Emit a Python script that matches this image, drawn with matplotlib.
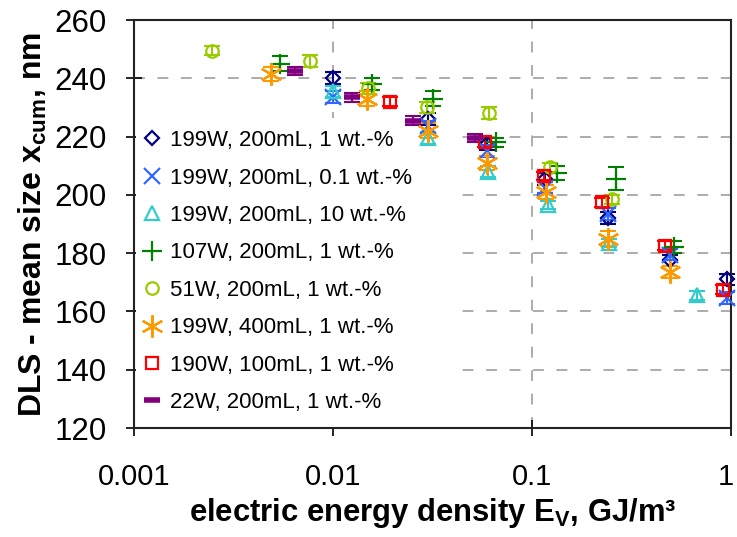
import matplotlib
matplotlib.use('Agg')
import matplotlib.pyplot as plt
from matplotlib.patches import Rectangle
from matplotlib.transforms import ScaledTranslation

plt.rcParams['font.family'] = ['Liberation Sans', 'DejaVu Sans']
plt.rcParams['mathtext.fontset'] = 'custom'
plt.rcParams['mathtext.rm'] = 'Liberation Sans'
plt.rcParams['mathtext.bf'] = 'Liberation Sans:bold'

# 199W, 200mL, 1 wt.-%
x_199_1 = [0.0100, 0.0300, 0.0594, 0.1160, 0.2410, 0.4930, 0.9550]
y_199_1 = [240.0, 226.0, 217.5, 205.5, 192.0, 177.5, 171.0]
e_199_1 = [2.0, 2.0, 2.0, 2.0, 2.0, 2.0, 2.0]

# 199W, 200mL, 0.1 wt.-%
x_199_01 = [0.0100, 0.0300, 0.0594, 0.1160, 0.2410, 0.4930, 0.9550]
y_199_01 = [233.5, 223.5, 215.0, 202.5, 193.5, 179.5, 164.5]
e_199_01 = [2.0, 2.0, 2.0, 2.0, 2.0, 2.0, 2.0]

# 199W, 200mL, 10 wt.-%
x_199_10 = [0.0100, 0.0300, 0.0600, 0.1200, 0.2450, 0.6750]
y_199_10 = [235.5, 219.5, 208.0, 196.5, 183.5, 165.5]
e_199_10 = [2.0, 2.0, 2.0, 1.5, 1.5, 1.5]

# 107W, 200mL, 1 wt.-%
x_107 = [0.0054, 0.0157, 0.0318, 0.0660, 0.1340, 0.2650, 0.5200]
y_107 = [245.0, 238.0, 233.0, 218.0, 207.5, 205.5, 182.0]
e_107 = [2.5, 2.0, 2.5, 1.5, 2.5, 4.0, 2.0]

# 51W, 200mL, 1 wt.-%
x_51 = [0.00247, 0.0077, 0.0150, 0.0297, 0.0608, 0.1230, 0.2520]
y_51 = [249.5, 246.0, 236.5, 230.0, 228.0, 209.5, 198.5]
e_51 = [1.5, 2.0, 2.0, 2.0, 2.0, 1.5, 1.5]

# 199W, 400mL, 1 wt.-%
x_400 = [0.0049, 0.0148, 0.0300, 0.0594, 0.1180, 0.2410, 0.4930]
y_400 = [241.5, 233.0, 222.0, 211.0, 201.0, 185.0, 173.5]
e_400 = [2.5, 2.5, 2.5, 2.5, 2.5, 2.5, 2.0]

# 190W, 100mL, 1 wt.-%
x_100 = [0.0193, 0.0580, 0.1150, 0.2250, 0.4650, 0.9100]
y_100 = [232.0, 218.0, 206.5, 197.5, 182.5, 167.5]
e_100 = [1.5, 1.5, 1.5, 1.5, 1.5, 1.5]

# 22W, 200mL, 1 wt.-%
x_22 = [0.00644, 0.0125, 0.0252, 0.0517]
y_22 = [242.5, 233.5, 225.5, 219.5]
e_22 = [1.5, 1.5, 1.5, 1.5]

xticks = [0.001, 0.01, 0.1, 1]
xtick_labels = ['0.001', '0.01', '0.1', '1']
yticks = [120, 140, 160, 180, 200, 220, 240, 260]

series = [
    (x_199_1, y_199_1, e_199_1, '199W, 200mL, 1 wt.-%', '#000080', 'D', 7, True),
    (x_199_01, y_199_01, e_199_01, '199W, 200mL, 0.1 wt.-%', '#3366FF', 'x', 12, False),
    (x_199_10, y_199_10, e_199_10, '199W, 200mL, 10 wt.-%', '#33CCCC', '^', 10, True),
    (x_107, y_107, e_107, '107W, 200mL, 1 wt.-%', '#008000', '+', 14, False),
    (x_51, y_51, e_51, '51W, 200mL, 1 wt.-%', '#99CC00', 'o', 9, True),
    (x_400, y_400, e_400, '199W, 400mL, 1 wt.-%', '#FF9900', (6, 2, 0), 16, False),
    (x_100, y_100, e_100, '190W, 100mL, 1 wt.-%', '#FF0000', 's', 9, True),
    (x_22, y_22, e_22, '22W, 200mL, 1 wt.-%', '#800080', '_', 11, False),
]

fig = plt.figure(figsize=(7.37, 5.37), dpi=100)
ax = fig.add_axes([134 / 737, 1 - 428 / 537, 597 / 737, 408 / 537])

handles = []
for x, y, e, label, color, marker, ms, hollow in series:
    ax.errorbar(x, y, yerr=e, fmt='none', ecolor=color, elinewidth=1.5,
                capsize=6, capthick=1.5, zorder=2, clip_on=False)
    mew = 4 if marker == '_' else 1.6
    h, = ax.plot(x, y, linestyle='none', marker=marker, markersize=ms,
                 markeredgecolor=color, markeredgewidth=mew,
                 markerfacecolor='none' if hollow else color,
                 label=label, zorder=3, clip_on=False)
    handles.append(h)

ax.set_xscale('log')
ax.set_xlim(0.001, 1)
ax.set_ylim(120, 260)
ax.set_xticks(xticks)
ax.set_xticklabels(xtick_labels)
ax.xaxis.set_minor_locator(matplotlib.ticker.NullLocator())
ax.set_yticks(yticks)

ax.grid(True, which='major', color='#A6A6A6', linestyle=(0, (6, 7)), linewidth=1.3)
ax.set_axisbelow(True)
for s in ax.spines.values():
    s.set_linewidth(1.5)
    s.set_color('#222222')

# white area behind the legend hides the grid there
ax.add_patch(Rectangle((0.003, 0.003), 0.53, 0.757, transform=ax.transAxes,
                       facecolor='white', edgecolor='none', zorder=1))

ax.tick_params(axis='both', direction='inout', length=12, width=1.2)
ax.tick_params(axis='x', pad=19, labelsize=21)
ax.tick_params(axis='y', pad=13.5, labelsize=22.5)

# the "1" sits right at the figure edge; nudge it in a little
last = ax.get_xticklabels()[-1]
last.set_transform(last.get_transform() + ScaledTranslation(-4 / 72, 0, fig.dpi_scale_trans))

ax.set_xlabel('electric energy density E$_\\mathbf{V}$, GJ/m³', fontsize=22.3,
              fontweight='bold', labelpad=4)
ax.set_ylabel('DLS - mean size x$_\\mathbf{cum}$, nm', fontsize=23,
              fontweight='bold', labelpad=4)

ax.legend(handles=handles, loc='upper left', bbox_to_anchor=(0.012, 0.73),
          frameon=False, fontsize=16, handlelength=1.0, handletextpad=0.3,
          labelspacing=0.74, borderpad=0.0, borderaxespad=0.0)

fig.savefig('out.png', dpi=100)
